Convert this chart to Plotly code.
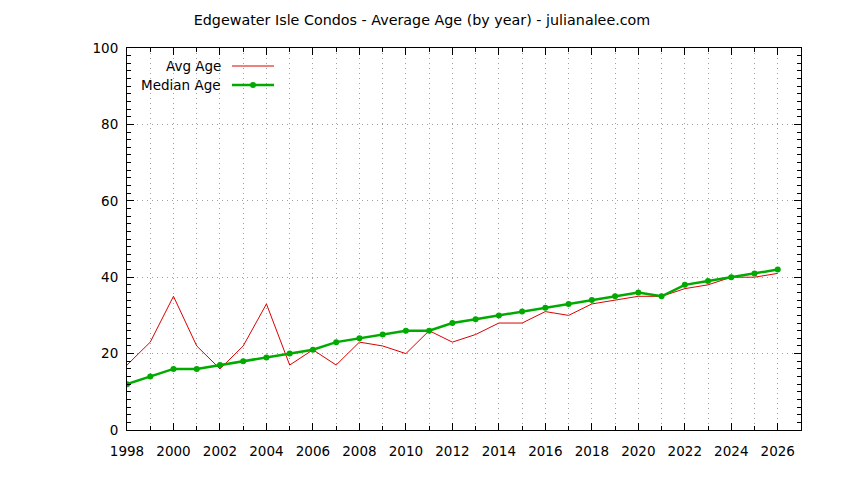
import plotly.graph_objects as go

years = list(range(1998, 2027))
avg_age = [17, 23, 35, 22, 16, 22, 33, 17, 21, 17, 23, 22, 20, 26, 23, 25, 28, 28,
           31, 30, 33, 34, 35, 35, 37, 38, 40, 40, 41]
median_age = [12, 14, 16, 16, 17, 18, 19, 20, 21, 23, 24, 25, 26, 26, 28, 29, 30, 31,
              32, 33, 34, 35, 36, 35, 38, 39, 40, 41, 42]
x_ticks = list(range(1998, 2027, 2))
y_ticks = [0, 20, 40, 60, 80, 100]

RED = "#dd0000"
GREEN = "#00aa00"
FONT = "DejaVu Sans"
GRID = "#a0a0a0"

fig = go.Figure()
fig.add_trace(go.Scatter(x=years, y=avg_age, mode="lines", name="Avg Age",
                         line=dict(color=RED, width=1)))
fig.add_trace(go.Scatter(x=years, y=median_age, mode="lines+markers", name="Median Age",
                         line=dict(color=GREEN, width=2.5),
                         marker=dict(color=GREEN, size=6)))

W, H = 844, 480
L, R, T, B = 127, 43, 48, 50

def px(x):
    return (x - L) / (W - L - R)

def py(y):
    return 1 - (y - T) / (H - T - B)

# custom legend (gnuplot style: text right-aligned, sample to the right)
fig.add_annotation(x=px(223), y=py(66), xref="paper", yref="paper", text="Avg Age",
                   showarrow=False, xanchor="right", yanchor="middle",
                   font=dict(family=FONT, size=13.5, color="#000000"))
fig.add_annotation(x=px(223), y=py(85), xref="paper", yref="paper", text="Median Age",
                   showarrow=False, xanchor="right", yanchor="middle",
                   font=dict(family=FONT, size=13.5, color="#000000"))
fig.add_shape(type="line", xref="paper", yref="paper", x0=px(232), x1=px(274),
              y0=py(66), y1=py(66), line=dict(color=RED, width=1))
fig.add_shape(type="line", xref="paper", yref="paper", x0=px(232), x1=px(274),
              y0=py(85), y1=py(85), line=dict(color=GREEN, width=2.5))
fig.add_shape(type="circle", xref="paper", yref="paper", x0=px(250), x1=px(256),
              y0=py(88), y1=py(82), line=dict(color=GREEN, width=0), fillcolor=GREEN)

fig.update_layout(
    width=W, height=H,
    margin=dict(l=L, r=R, t=T, b=B, autoexpand=False),
    paper_bgcolor="white", plot_bgcolor="white",
    showlegend=False,
    font=dict(family=FONT, size=13.5, color="#000000"),
    title=dict(text="Edgewater Isle Condos - Average Age (by year) - julianalee.com",
               x=0.5, xref="container", xanchor="center", y=1 - 20 / H, yanchor="middle",
               font=dict(family=FONT, size=14.3, color="#000000")),
)
fig.update_xaxes(range=[1998, 2027], tickvals=x_ticks, ticks="inside", ticklen=7,
                 tickcolor="black", showline=True, linecolor="black", linewidth=1,
                 mirror="allticks", showgrid=True, gridcolor=GRID, griddash="1px,4px",
                 gridwidth=1, zeroline=False, automargin=False, ticklabelstandoff=9,
                 minor=dict(dtick=1, ticks="inside", ticklen=4, tickcolor="black",
                            showgrid=True, gridcolor=GRID, griddash="1px,4px"))
fig.update_yaxes(range=[0, 100], tickvals=y_ticks, ticks="inside", ticklen=7,
                 tickcolor="black", showline=True, linecolor="black", linewidth=1,
                 mirror="allticks", showgrid=True, gridcolor=GRID, griddash="1px,4px",
                 gridwidth=1, zeroline=False, automargin=False, ticklabelstandoff=5,
                 minor=dict(dtick=2, ticks="inside", ticklen=4, tickcolor="black",
                            showgrid=False))

fig.write_html("out.html", config={"displayModeBar": False},
               post_script="document.body.style.margin='0';document.body.style.overflow='hidden';")
